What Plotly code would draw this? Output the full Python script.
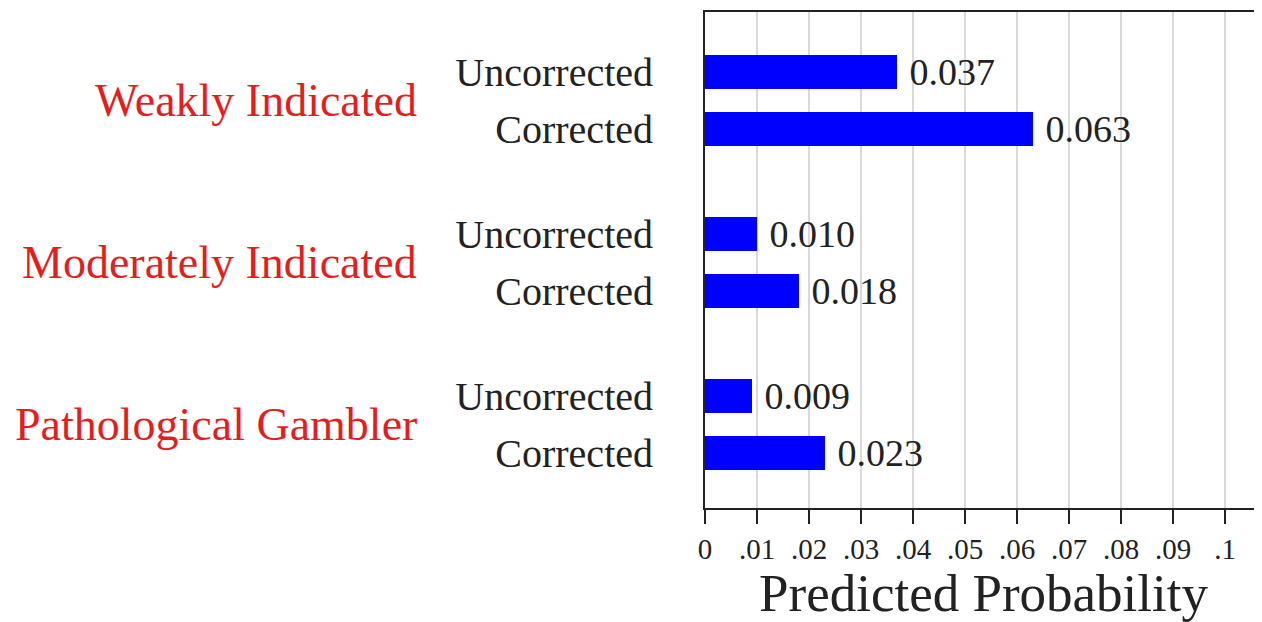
import plotly.graph_objects as go

groups = ["Weakly Indicated", "Moderately Indicated", "Pathological Gambler"]
versions = ["Uncorrected", "Corrected"]
uncorrected = [0.037, 0.010, 0.009]
corrected = [0.063, 0.018, 0.023]
x_tick_vals = [0, 0.01, 0.02, 0.03, 0.04, 0.05, 0.06, 0.07, 0.08, 0.09, 0.1]
x_tick_text = ["0", ".01", ".02", ".03", ".04", ".05", ".06", ".07", ".08", ".09", ".1"]

GROUP_STRIDE = 2.84
FONT = "Liberation Serif"

ys, xs, labels = [], [], []
for gi, g in enumerate(groups):
    for si, (v, vals) in enumerate(zip(versions, [uncorrected, corrected])):
        ys.append(gi * GROUP_STRIDE + si)
        xs.append(vals[gi])
        labels.append(v)

fig = go.Figure()
fig.add_trace(go.Bar(
    x=xs, y=ys, orientation="h", width=0.6,
    marker=dict(color="#0000ff", line=dict(width=0)),
    texttemplate=" %{x:.3f}", textposition="outside", cliponaxis=False,
    constraintext="none",
    textfont=dict(family=FONT, size=38, color="#222222"),
    hoverinfo="skip",
))

for gi, g in enumerate(groups):
    fig.add_annotation(
        x=0, xref="paper", y=gi * GROUP_STRIDE + 0.5, yref="y",
        text=g, showarrow=False, xanchor="right", yanchor="middle",
        xshift=-286, font=dict(family=FONT, size=46, color="#e41e1e"),
    )

fig.update_layout(
    width=1254, height=614,
    margin=dict(l=697, r=0, t=4, b=114),
    paper_bgcolor="white", plot_bgcolor="white",
    showlegend=False,
    bargap=0,
)
fig.update_xaxes(
    range=[0, 0.1071], tickvals=x_tick_vals, ticktext=x_tick_text,
    showgrid=True, gridcolor="#d9d9d9", gridwidth=2,
    showline=True, linecolor="#222222", linewidth=2, mirror=True,
    ticks="outside", ticklen=14, tickwidth=2, tickcolor="#222222",
    tickfont=dict(family=FONT, size=29, color="#222222"),
    title=dict(text="Predicted Probability", font=dict(family=FONT, size=53, color="#222222"), standoff=4),
    zeroline=False,
)
fig.update_yaxes(
    range=[7.64, -1.05], tickvals=ys, ticktext=labels,
    showgrid=False, zeroline=False,
    showline=True, linecolor="#222222", linewidth=2,
    ticks="", ticklabelstandoff=42,
    tickfont=dict(family=FONT, size=40, color="#222222"),
)

fig.write_html("out.html")
